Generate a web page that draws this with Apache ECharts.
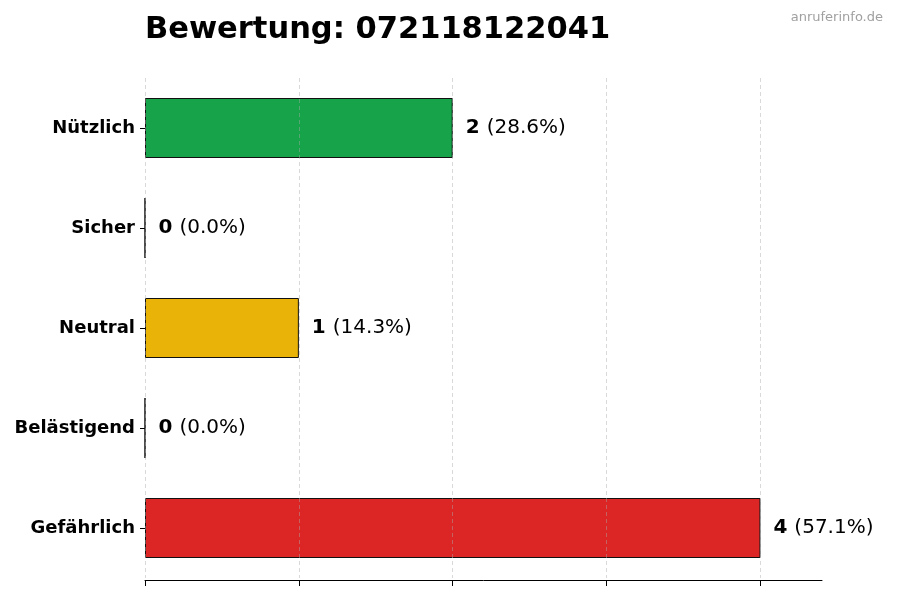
<!DOCTYPE html>
<html>
<head>
<meta charset="utf-8">
<script src="https://cdn.jsdelivr.net/npm/echarts@6/dist/echarts.min.js"></script>
<style>html,body{margin:0;padding:0;background:#fff}#c{width:900px;height:600px}</style>
</head>
<body>
<div id="c"></div>
<script>
const categories = ['Nützlich', 'Sicher', 'Neutral', 'Belästigend', 'Gefährlich'];
const values = [2, 0, 1, 0, 4];
const colors = ['#16a34a', '#9ca3af', '#eab308', '#f97316', '#dc2626'];
const xTicks = [0, 1, 2, 3, 4];
const titleText = 'Bewertung: 072118122041';
const watermark = 'anruferinfo.de';

const total = values.reduce((a, b) => a + b, 0);
const font = 'DejaVu Sans';
const chart = echarts.init(document.getElementById('c'));
chart.setOption({
  animation: false,
  backgroundColor: '#fff',
  title: [
    { text: titleText, left: 145, top: 15, padding: 0, textStyle: { fontFamily: font, fontWeight: 'bold', fontSize: 30.5, color: '#000' } },
    { text: watermark, right: 17, top: 11, padding: 0, textStyle: { fontFamily: font, fontWeight: 'normal', fontSize: 13, color: '#a0a0a0' } }
  ],
  grid: { left: 145, right: 78, top: 78, bottom: 22 },
  xAxis: {
    type: 'value', min: 0, max: 4.4, interval: 1, z: 10,
    offset: 2,
    axisLine: { show: true, lineStyle: { color: '#000', width: 1 } },
    axisTick: { show: true, length: 6, lineStyle: { color: '#000' }, customValues: xTicks },
    axisLabel: { show: false },
    splitLine: { show: true, lineStyle: { color: 'rgba(170,170,170,0.45)', type: [4, 3], width: 1 } }
  },
  yAxis: {
    type: 'category', data: categories, inverse: true,
    axisLine: { show: false },
    axisTick: { show: true, alignWithLabel: true, length: 5, lineStyle: { color: '#000' } },
    axisLabel: { fontFamily: font, fontWeight: 'bold', fontSize: 18, color: '#000', margin: 10 },
    splitLine: { show: false }
  },
  series: [{
    type: 'bar',
    barWidth: 60,
    data: values.map((v, i) => ({ value: v, itemStyle: { color: colors[i], borderColor: '#111', borderWidth: 1 } })),
    label: {
      show: true, position: 'right', distance: 13,
      formatter: p => '{b|' + p.value + '}{n|(' + (p.value / total * 100).toFixed(1) + '%)}',
      rich: {
        b: { fontFamily: font, fontWeight: 'bold', fontSize: 20, color: '#000', padding: [0, 7, 0, 0] },
        n: { fontFamily: font, fontWeight: 'normal', fontSize: 20, color: '#000' }
      }
    }
  }]
});
</script>
</body>
</html>
